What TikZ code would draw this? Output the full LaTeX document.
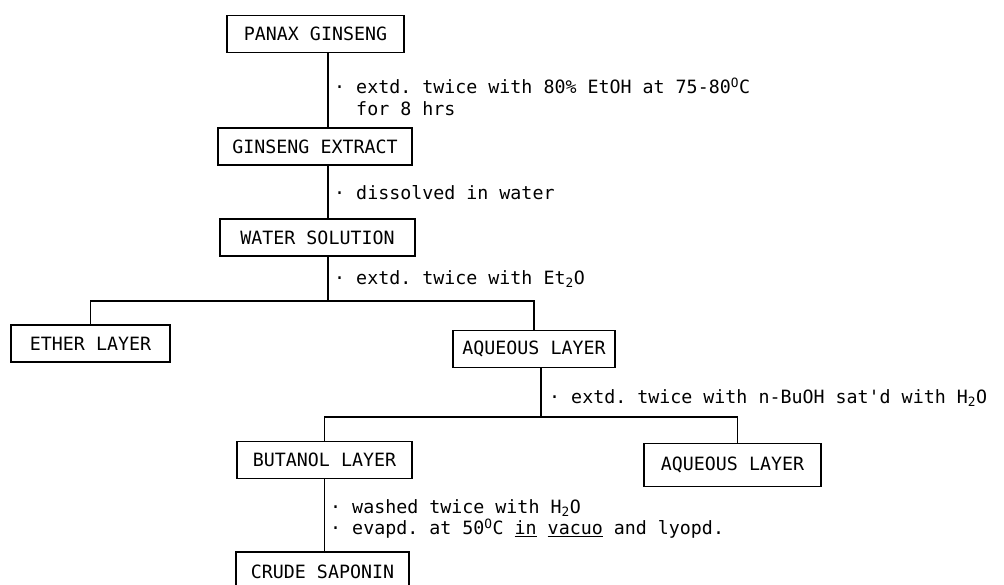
\documentclass[tikz,border=0pt]{standalone}
\usepackage{fontspec}
\setmonofont{DejaVu Sans Mono}
\usetikzlibrary{positioning}
\newcommand{\flowfont}{\ttfamily\fontsize{18.3}{21.5}\selectfont}
\tikzset{
  stagebox/.style={draw=black,line width=1.1pt,fill=white,
                   minimum height=37pt,inner sep=0pt,font=\flowfont},
  stepnote/.style={anchor=west,inner sep=0pt,align=left,font=\flowfont},
  joinline/.style={line width=1.1pt}
}

\begin{document}
\begin{tikzpicture}[x=1pt,y=-1pt]
  \useasboundingbox (0,0) rectangle (1004,584);
  \clip (0,0) rectangle (1004,584);
  \fill[white] (0,0) rectangle (1004,584);

  % boxes, top to bottom
  \node[stagebox,minimum width=177pt] (panax)   at (315.5,34)  {PANAX GINSENG};
  \node[stagebox,minimum width=194pt] (extract) at (315,146.5) {GINSENG EXTRACT};
  \node[stagebox,minimum width=195pt] (water)   at (317.5,237.5) {WATER SOLUTION};
  \node[stagebox,minimum width=159pt] (ether)   at (90.5,343.5) {ETHER LAYER};
  \node[stagebox,minimum width=162pt] (aqone)   at (534,349)   {AQUEOUS LAYER};
  \node[stagebox,minimum width=175pt] (butanol) at (324.5,460) {BUTANOL LAYER};
  \node[stagebox,minimum width=177pt,minimum height=43pt] (aqtwo) at (732.5,465) {AQUEOUS LAYER};
  \node[stagebox,minimum width=173pt,minimum height=40pt] (crude) at (322.5,572) {CRUDE SAPONIN};

  % trunk and fork points
  \coordinate (spine) at (328,0);
  \coordinate (forkA) at (328,301);
  \coordinate (forkB) at (541,417);

  % connectors
  \draw[joinline] (panax.south -| spine) -- (extract.north -| spine);
  \draw[joinline] (extract.south -| spine) -- (water.north -| spine);
  \draw[joinline] (water.south -| forkA) -- (forkA);
  \draw[joinline] (ether.north) |- (forkA) -| (aqone.north);
  \draw[joinline] (aqone.south -| forkB) -- (forkB);
  \draw[joinline] (butanol.north) |- (forkB) -| ([xshift=5pt]aqtwo.north);
  \draw[joinline] (butanol.south) -- (crude.north -| butanol.south);

  % step notes
  \node[stepnote] (noteA) at (334,96.5)
    {·~extd. twice with 80\% EtOH at 75-80\textsuperscript{O}C\\~~for 8 hrs};
  \node[stepnote] (noteB) at (334,193) {·~dissolved in water};
  \node[stepnote] (noteC) at (334,279) {·~extd. twice with Et\textsubscript{2}O};
  \node[stepnote] (noteD) at (549,398)
    {·~extd. twice with n-BuOH sat'd with H\textsubscript{2}O};
  \node[stepnote] (noteE) at (330,519)
    {·~washed twice with H\textsubscript{2}O\\
     ·~evapd. at 50\textsuperscript{O}C \underline{in} \underline{vacuo} and lyopd.};
\end{tikzpicture}
\end{document}
